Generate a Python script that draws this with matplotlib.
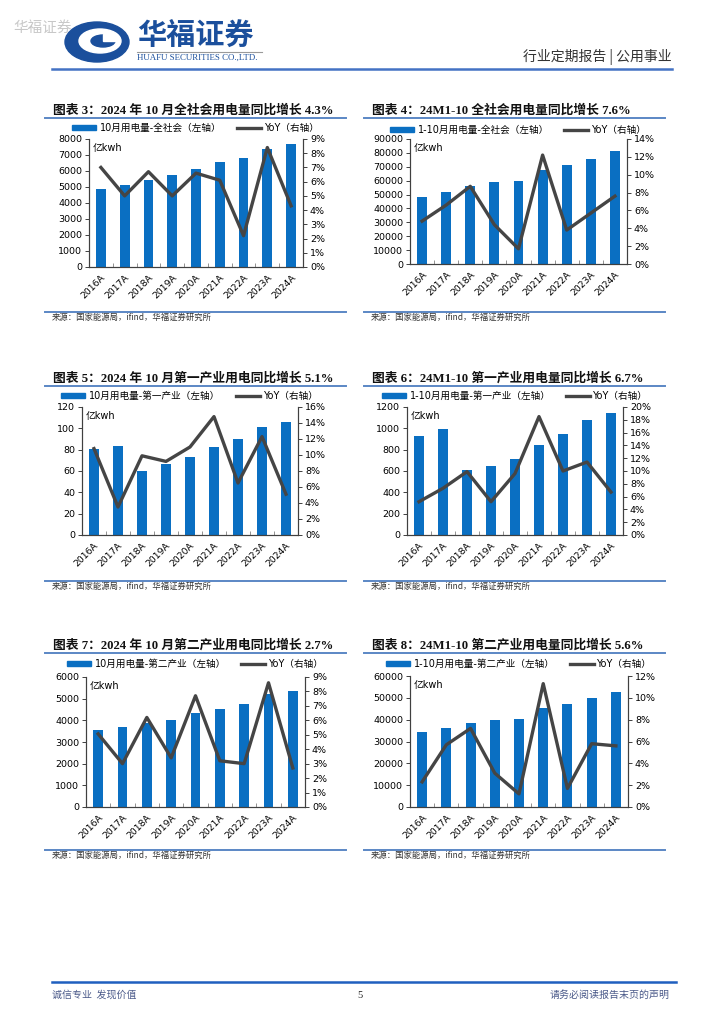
import numpy as np
import matplotlib
matplotlib.use('Agg')
import matplotlib.pyplot as plt
from matplotlib.patches import Ellipse, Rectangle
from matplotlib.lines import Line2D
from matplotlib.ticker import MultipleLocator, FuncFormatter, FixedLocator

# ---------------- data ----------------
years = ['2016A', '2017A', '2018A', '2019A', '2020A', '2021A', '2022A', '2023A', '2024A']

c3_bar = [4850, 5100, 5460, 5770, 6150, 6560, 6810, 7380, 7710]
c3_yoy = [7.0, 5.0, 6.7, 5.0, 6.6, 6.1, 2.2, 8.4, 4.3]

c4_bar = [48000, 51600, 55900, 58800, 60000, 67700, 71500, 75800, 81400]
c4_yoy = [4.8, 6.6, 8.7, 4.4, 1.7, 12.2, 3.8, 5.7, 7.6]

c5_bar = [80.7, 83.8, 60.0, 66.4, 73.2, 82.9, 90.0, 101.0, 106.0]
c5_yoy = [10.8, 3.5, 9.9, 9.2, 11.0, 14.8, 6.5, 12.3, 5.1]

c6_bar = [927, 997, 614, 646, 711, 843, 946, 1075, 1141]
c6_yoy = [5.2, 7.3, 9.9, 5.2, 9.6, 18.5, 10.0, 11.4, 6.7]

c7_bar = [3570, 3680, 3880, 4000, 4320, 4510, 4750, 5215, 5340]
c7_yoy = [5.06, 3.0, 6.2, 3.4, 7.7, 3.2, 3.0, 8.6, 2.7]

c8_bar = [34200, 36000, 38600, 39700, 40300, 45300, 47000, 49800, 52700]
c8_yoy = [2.3, 5.7, 7.2, 3.1, 1.2, 11.3, 1.7, 5.8, 5.6]

titles = ['图表 3：2024 年 10 月全社会用电量同比增长 4.3%',
          '图表 4：24M1-10 全社会用电量同比增长 7.6%',
          '图表 5：2024 年 10 月第一产业用电同比增长 5.1%',
          '图表 6：24M1-10 第一产业用电量同比增长 6.7%',
          '图表 7：2024 年 10 月第二产业用电同比增长 2.7%',
          '图表 8：24M1-10 第二产业用电量同比增长 5.6%']
bar_labels = ['10月用电量-全社会（左轴）', '1-10月用电量-全社会（左轴）',
              '10月用电量-第一产业（左轴）', '1-10月用电量-第一产业（左轴）',
              '10月用电量-第二产业（左轴）', '1-10月用电量-第二产业（左轴）']
line_label = 'YoY（右轴）'
unit_label = '亿kwh'
source_text = '来源：国家能源局，ifind，华福证券研究所'

# ---------------- style ----------------
W, H = 724, 1024
BLUE = '#0A6FC2'
GRAY = '#454545'
RULE = '#5B87C5'
SPINE = '#404040'
CJK = 'Noto Sans CJK SC'
plt.rcParams['font.family'] = ['DejaVu Sans', CJK]

fig = plt.figure(figsize=(W / 100, H / 100), dpi=100)
bg = fig.add_axes([0, 0, 1, 1])
bg.set_xlim(0, W)
bg.set_ylim(H, 0)
bg.axis('off')

# ---------------- header ----------------
bg.text(13, 28, '华福证券', fontsize=10.5, color='#c8c8c8', family=[CJK], va='center', ha='left')
LOGO = '#1B4F9C'
bg.add_patch(Ellipse((97, 42), 64, 40, color=LOGO))
bg.add_patch(Ellipse((100, 41), 42, 24, color='white'))
bg.add_patch(Ellipse((103, 41), 24, 12, color=LOGO))
bg.add_patch(Rectangle((103, 34), 14, 7, color='white'))
bg.text(137, 35, '华福证券', fontsize=21, color=LOGO, family=[CJK], fontweight='bold', va='center', ha='left')
bg.plot([137, 262], [52, 52], color='#9a9a9a', lw=0.8)
bg.text(137, 58, 'HUAFU SECURITIES CO.,LTD.', fontsize=6.4, color=LOGO, family=['Liberation Serif'], va='center', ha='left')
bg.text(672, 57, '行业定期报告 | 公用事业', fontsize=10, color='#333333', family=[CJK], va='center', ha='right')
bg.plot([52, 672], [69, 69], color='#4472C4', lw=1.8)

# ---------------- footer ----------------
bg.plot([52, 676], [982, 982], color='#1F5FBF', lw=1.8)
bg.text(52, 995, '诚信专业  发现价值', fontsize=7.2, color='#4B5A8A', family=[CJK], va='center', ha='left')
bg.text(360, 995, '5', fontsize=7.5, color='#222222', family=['Liberation Serif'], va='center', ha='center')
bg.text(670, 995, '请务必阅读报告末页的声明', fontsize=7.2, color='#4B5A8A', family=[CJK], va='center', ha='right')


def pct(v, p):
    return f'{v:.0f}%'


def chart(box, bars, yoy, ymax, ystep, rmax, rstep, label, title, col_x, ty, ly, sy):
    x0, y0, x1, y1 = box
    ax = fig.add_axes([x0 / W, 1 - y1 / H, (x1 - x0) / W, (y1 - y0) / H])
    idx = np.arange(len(years))
    ax.bar(idx, bars, width=0.41, color=BLUE, zorder=2)
    ax.set_xlim(-0.5, len(years) - 0.5)
    ax.set_ylim(0, ymax)
    ax.yaxis.set_major_locator(MultipleLocator(ystep))
    ax.set_xticks(idx)
    ax.set_xticklabels(years, rotation=45, ha='right', va='top', rotation_mode='anchor', fontsize=6.7)
    ax.xaxis.set_minor_locator(FixedLocator(np.arange(len(years) + 1) - 0.5))
    ax.tick_params(axis='x', which='major', length=0, pad=4)
    ax.tick_params(axis='x', which='minor', direction='in', length=3, width=0.6, color='#808080')
    ax.tick_params(axis='y', labelsize=6.8, length=3, width=0.7, color=SPINE, pad=2)
    ax2 = ax.twinx()
    ax2.plot(idx, yoy, color=GRAY, lw=2.4, zorder=3)
    ax2.set_ylim(0, rmax)
    ax2.yaxis.set_major_locator(MultipleLocator(rstep))
    ax2.yaxis.set_major_formatter(FuncFormatter(pct))
    ax2.tick_params(axis='y', labelsize=6.8, length=3, width=0.7, color=SPINE, pad=2)
    for a in (ax, ax2):
        a.spines['top'].set_visible(False)
        for s in ('left', 'right', 'bottom'):
            a.spines[s].set_color(SPINE)
            a.spines[s].set_linewidth(0.8)
    ax.text(0.015, 0.93, unit_label, transform=ax.transAxes, fontsize=7, va='center', ha='left')

    handles = [Rectangle((0, 0), 1, 1, color=BLUE), Line2D([0], [0], color=GRAY, lw=2.4)]
    fig.legend(handles, [label, line_label], loc='center',
               bbox_to_anchor=((x0 + x1) / 2 / W, 1 - ly / H), ncol=2, frameon=False,
               fontsize=6.9, handlelength=2.5, handleheight=0.55, handletextpad=0.4,
               columnspacing=1.6, borderaxespad=0, borderpad=0)

    # title, rules, source
    bg.text(col_x + 8, ty, title, fontsize=9.2, fontweight='bold',
            family=['Liberation Serif', CJK], va='center', ha='left', color='#111111')
    bg.plot([col_x, col_x + 301], [ty + 8, ty + 8], color=RULE, lw=1.4)
    bg.plot([col_x, col_x + 301], [sy, sy], color=RULE, lw=1.4)
    bg.text(col_x + 7, sy + 5, source_text, fontsize=6.0, family=[CJK], va='center', ha='left', color='#333333')


chart((89, 139, 303, 267), c3_bar, c3_yoy, 8000, 1000, 9, 1, bar_labels[0], titles[0], 45, 110, 128, 312)
chart((410, 139, 627, 264), c4_bar, c4_yoy, 90000, 10000, 14, 2, bar_labels[1], titles[1], 364, 110, 130, 312)
chart((82, 407, 298, 535), c5_bar, c5_yoy, 120, 20, 16, 2, bar_labels[2], titles[2], 45, 378, 396, 581)
chart((407, 407, 623, 535), c6_bar, c6_yoy, 1200, 200, 20, 2, bar_labels[3], titles[3], 364, 378, 396, 581)
chart((86, 677, 305, 807), c7_bar, c7_yoy, 6000, 1000, 9, 1, bar_labels[4], titles[4], 45, 645, 664, 850)
chart((410, 676, 628, 807), c8_bar, c8_yoy, 60000, 10000, 12, 2, bar_labels[5], titles[5], 364, 645, 664, 850)

fig.savefig('out.png', dpi=100)
